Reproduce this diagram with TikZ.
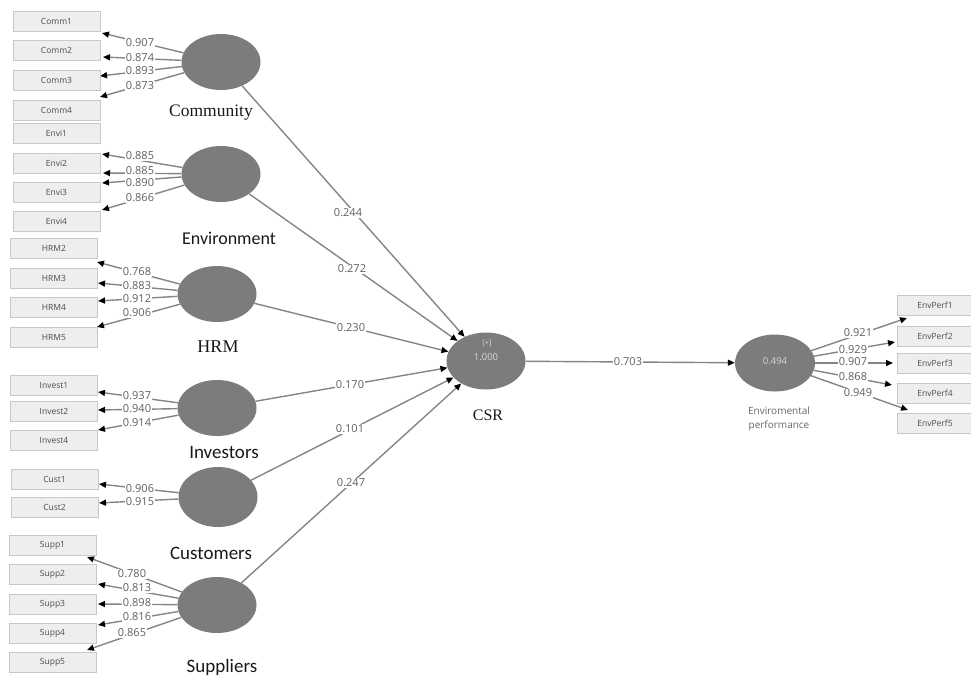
\documentclass[tikz,border=0pt]{standalone}
\usepackage{fontspec}
\setmainfont{Liberation Serif}
\newfontfamily\osans{Open Sans}
\newfontfamily\calib{Carlito}
\usetikzlibrary{shapes.geometric,arrows.meta}
\definecolor{lvfill}{HTML}{7C7C7C}
\definecolor{linegray}{HTML}{858585}
\definecolor{boxfill}{HTML}{EEEEEE}
\definecolor{boxline}{HTML}{C8C8C8}
\definecolor{loadtxt}{HTML}{606060}
\definecolor{intxt}{HTML}{D8D8D8}
\pgfdeclarelayer{bg}\pgfsetlayers{bg,main}
\tikzset{
  ind/.style={draw=boxline, line width=0.8pt, fill=boxfill, minimum width=87pt, minimum height=20pt, inner sep=0pt,
              font=\osans\fontsize{8.5}{9}\selectfont, text=black!70},
  lv/.style={ellipse, fill=lvfill, inner sep=0pt, minimum width=79pt, minimum height=56pt},
  load/.style={fill=white, inner sep=0.5pt, font=\osans\fontsize{11}{12}\selectfont, text=loadtxt},
  con/.style={draw=linegray, line width=1.4pt, -{Triangle[length=7pt,width=6pt,color=black]}},
  serifname/.style={font=\fontsize{17.5}{19}\selectfont, text=black!90},
  sansname/.style={font=\calib\fontsize{19}{21}\selectfont, text=black!90},
}
\begin{document}
\begin{tikzpicture}[x=1pt,y=-1pt]
\useasboundingbox (0,0) rectangle (971,678);

% ---------------- indicator boxes (left) ----------------
\node[ind] (comm1) at (56.5,21) {Comm1};
\node[ind] (comm2) at (56.5,50) {Comm2};
\node[ind] (comm3) at (56.5,80) {Comm3};
\node[ind] (comm4) at (56.5,110) {Comm4};
\node[ind] (envi1) at (56.5,133) {Envi1};
\node[ind] (envi2) at (56.5,163) {Envi2};
\node[ind] (envi3) at (56.5,192) {Envi3};
\node[ind] (envi4) at (56.5,221) {Envi4};
\node[ind] (hrm2) at (54,248) {HRM2};
\node[ind] (hrm3) at (54,278) {HRM3};
\node[ind] (hrm4) at (54,307) {HRM4};
\node[ind] (hrm5) at (54,337) {HRM5};
\node[ind] (inv1) at (54,385) {Invest1};
\node[ind] (inv2) at (54,411) {Invest2};
\node[ind] (inv4) at (54,440) {Invest4};
\node[ind] (cust1) at (54.5,479) {Cust1};
\node[ind] (cust2) at (54.5,507) {Cust2};
\node[ind] (supp1) at (52.5,545) {Supp1};
\node[ind] (supp2) at (52.5,574) {Supp2};
\node[ind] (supp3) at (52.5,604) {Supp3};
\node[ind] (supp4) at (52.5,633) {Supp4};
\node[ind] (supp5) at (52.5,662) {Supp5};

% ---------------- indicator boxes (right) ----------------
\node[ind, minimum width=76pt] (ep1) at (935,305) {EnvPerf1};
\node[ind, minimum width=76pt] (ep2) at (935,336) {EnvPerf2};
\node[ind, minimum width=76pt] (ep3) at (935,363) {EnvPerf3};
\node[ind, minimum width=76pt] (ep4) at (935,393) {EnvPerf4};
\node[ind, minimum width=76pt] (ep5) at (935,423) {EnvPerf5};

% ---------------- latent variables ----------------
\node[lv] (comm) at (221,62) {};
\node[lv] (env) at (221,174) {};
\node[lv] (hrm) at (217,294) {};
\node[lv] (inv) at (217,408) {};
\node[lv, minimum height=60pt] (cus) at (218,497) {};
\node[lv] (sup) at (217,605) {};
\node[lv, minimum height=57pt] (csr) at (486,361) {};
\node[lv, minimum width=80pt, minimum height=57pt] (ep) at (775,363) {};

\node[font=\osans\fontsize{7.5}{8}\selectfont, text=intxt] (csrplus) at (487,343) {[+]};
\node[font=\osans\fontsize{9.5}{10}\selectfont, text=intxt] (csrr2) at (486,357) {1.000};
\node[font=\osans\fontsize{9.5}{10}\selectfont, text=intxt] (epr2) at (775,361) {0.494};

% ---------------- latent names ----------------
\node[serifname] (ncomm) at (211,113) {Community};
\node[sansname, font=\calib\fontsize{18}{20}\selectfont] (nenv) at (229,238) {Environment};
\node[serifname, font=\fontsize{18}{20}\selectfont] (nhrm) at (218,347) {HRM};
\node[sansname] (ninv) at (224,452) {Investors};
\node[sansname] (ncus) at (211,553) {Customers};
\node[sansname] (nsup) at (222,667) {Suppliers};
\node[serifname, font=\fontsize{16}{18}\selectfont] (ncsr) at (488,415) {CSR};
\node[font=\osans\fontsize{10}{14}\selectfont, text=black!60, align=center] (nep) at (779,419) {Enviromental\\performance};

% ---------------- outer loadings ----------------
\foreach \lv/\id/\tx/\ty/\lx/\ly/\val in {
  comm/a1/102/33/140/43/0.907, comm/a2/103/57/140/58/0.874, comm/a3/100/76/140/71/0.893, comm/a4/100/97/140/86/0.873,
  env/b1/102/154/140/156/0.885, env/b2/103/173/140/171/0.885, env/b3/102/183/140/183/0.890, env/b4/102/210/140/198/0.866,
  hrm/c1/97/262/137/272/0.768, hrm/c2/98/283/137/286/0.883, hrm/c3/98/301/137/299/0.912, hrm/c4/97/327/137/313/0.906,
  inv/d1/98/392/137/396/0.937, inv/d2/98/410/137/409/0.940, inv/d3/98/430/137/423/0.914,
  cus/e1/99/484/140/489/0.906, cus/e2/99/503/140/502/0.915,
  sup/f1/87/557/132/574/0.780, sup/f2/98/584/137/588/0.813, sup/f3/98/604/137/603/0.898, sup/f4/98/625/137/617/0.816, sup/f5/87/650/132/633/0.865,
  ep/g1/907/318/858/333/0.921, ep/g2/895/342/853/350/0.929, ep/g3/893/363/853/362/0.907, ep/g4/892/385/853/377/0.868, ep/g5/908/410/858/393/0.949}{
  \coordinate (t\id) at (\tx,\ty);
  \begin{pgfonlayer}{bg}
    \draw[con] (\lv) -- (t\id);
  \end{pgfonlayer}
  \node[load] (l\id) at (\lx,\ly) {\val};
}

% ---------------- structural paths ----------------
\begin{pgfonlayer}{bg}
  \draw[con] (comm) -- (csr);
  \draw[con] (env) -- (csr);
  \draw[con] (hrm) -- (csr);
  \draw[con] (inv) -- (csr);
  \draw[con] (cus) -- (csr);
  \draw[con] (sup) -- (csr);
  \draw[con] (csr) -- (ep);
\end{pgfonlayer}
\node[load] (p1) at (348,213) {0.244};
\node[load] (p2) at (352,269) {0.272};
\node[load] (p3) at (351,328) {0.230};
\node[load] (p4) at (350,385) {0.170};
\node[load] (p5) at (350,429) {0.101};
\node[load] (p6) at (351,483) {0.247};
\node[load] (p7) at (628,362) {0.703};
\end{tikzpicture}
\end{document}
